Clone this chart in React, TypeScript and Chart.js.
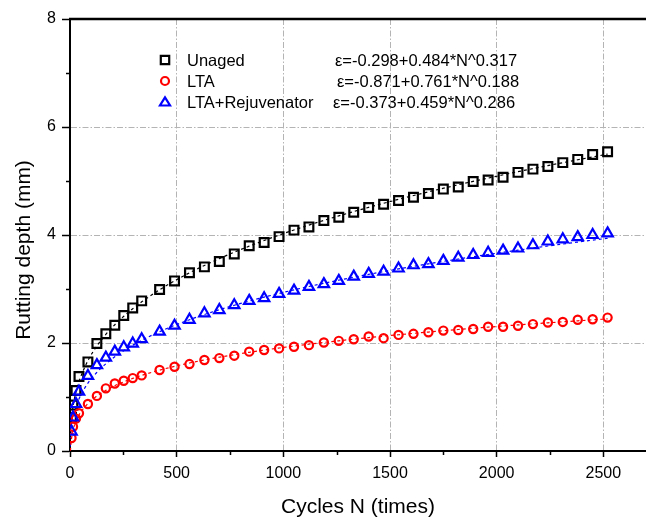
import React, { useEffect, useRef } from 'react';
import { Chart, registerables } from 'chart.js';

Chart.register(...registerables);

const FONT = '"Liberation Sans", Arial, Helvetica, sans-serif';

// Measured points (cycles N, rutting depth mm)
const cycles = [7, 14, 28, 42, 84, 126, 168, 210, 252, 294, 336, 420, 490, 560, 630, 700, 770, 840, 910, 980, 1050, 1120, 1190, 1260, 1330, 1400, 1470, 1540, 1610, 1680, 1750, 1820, 1890, 1960, 2030, 2100, 2170, 2240, 2310, 2380, 2450, 2520];
const unaged = [0.62, 0.85, 1.12, 1.38, 1.65, 1.99, 2.17, 2.33, 2.51, 2.65, 2.78, 2.99, 3.15, 3.30, 3.41, 3.51, 3.65, 3.80, 3.86, 3.97, 4.09, 4.15, 4.27, 4.33, 4.42, 4.51, 4.57, 4.64, 4.70, 4.77, 4.85, 4.89, 4.99, 5.02, 5.07, 5.16, 5.22, 5.27, 5.34, 5.40, 5.49, 5.54];
const lta = [0.24, 0.45, 0.60, 0.70, 0.87, 1.02, 1.16, 1.25, 1.30, 1.35, 1.40, 1.50, 1.56, 1.61, 1.685, 1.72, 1.765, 1.84, 1.87, 1.90, 1.93, 1.96, 2.01, 2.04, 2.07, 2.12, 2.09, 2.15, 2.17, 2.20, 2.23, 2.24, 2.26, 2.30, 2.30, 2.32, 2.35, 2.38, 2.39, 2.43, 2.44, 2.47];
const rejuv = [0.36, 0.62, 0.87, 1.10, 1.39, 1.59, 1.73, 1.84, 1.92, 1.99, 2.07, 2.21, 2.32, 2.43, 2.55, 2.61, 2.70, 2.78, 2.83, 2.91, 2.97, 3.04, 3.09, 3.15, 3.23, 3.28, 3.32, 3.38, 3.44, 3.46, 3.52, 3.58, 3.63, 3.67, 3.71, 3.75, 3.81, 3.88, 3.92, 3.96, 4.00, 4.03];

// Fitted curves
const fitCycles = [1, 3, 7, 14, 28, 42, 84, 126, 168, 210, 252, 294, 336, 420, 560, 700, 840, 980, 1120, 1260, 1400, 1540, 1680, 1820, 1960, 2100, 2240, 2380, 2520];
const unagedFit = [0.186, 0.388, 0.599, 0.819, 1.094, 1.285, 1.674, 1.944, 2.159, 2.338, 2.495, 2.635, 2.762, 2.986, 3.300, 3.563, 3.793, 3.998, 4.184, 4.354, 4.512, 4.660, 4.799, 4.930, 5.054, 5.173, 5.285, 5.393, 5.497];
const ltaFit = [-0.110, 0.065, 0.226, 0.379, 0.553, 0.666, 0.880, 1.018, 1.123, 1.209, 1.281, 1.344, 1.401, 1.498, 1.630, 1.737, 1.828, 1.907, 1.978, 2.041, 2.100, 2.153, 2.203, 2.250, 2.294, 2.335, 2.374, 2.411, 2.447];
const rejuvFit = [0.086, 0.255, 0.428, 0.603, 0.817, 0.964, 1.257, 1.457, 1.614, 1.745, 1.858, 1.959, 2.050, 2.210, 2.431, 2.616, 2.776, 2.918, 3.046, 3.163, 3.271, 3.372, 3.466, 3.555, 3.639, 3.719, 3.796, 3.869, 3.939];

const seriesNames = ['Unaged', 'LTA', 'LTA+Rejuvenator'];
const equations = ['\u03B5=-0.298+0.484*N^0.317', '\u03B5=-0.871+0.761*N^0.188', '\u03B5=-0.373+0.459*N^0.286'];
const seriesColors = ['#000000', '#ff0000', '#0000ff'];
const seriesMarkers = ['rect', 'circle', 'triangle'];

const xTitle = 'Cycles N (times)';
const yTitle = 'Rutting depth (mm)';
const xTickValues = [0, 250, 500, 750, 1000, 1250, 1500, 1750, 2000, 2250, 2500];
const xTickLabels = ['0', '', '500', '', '1000', '', '1500', '', '2000', '', '2500'];
const yTickValues = [0, 1, 2, 3, 4, 5, 6, 7, 8];
const yTickLabels = ['0', '', '2', '', '4', '', '6', '', '8'];

const toXY = (xs: number[], ys: number[]) => xs.map((x, i) => ({ x, y: ys[i] }));

function drawMarker(ctx: CanvasRenderingContext2D, kind: string, x: number, y: number, color: string) {
  ctx.save();
  ctx.strokeStyle = color;
  ctx.lineWidth = 2.2;
  ctx.beginPath();
  if (kind === 'rect') {
    ctx.rect(x - 4.2, y - 4.2, 8.4, 8.4);
  } else if (kind === 'circle') {
    ctx.arc(x, y, 4, 0, Math.PI * 2);
  } else {
    const r = 5.8;
    ctx.moveTo(x, y - r * 0.8);
    ctx.lineTo(x + r * 0.866, y + r * 0.6);
    ctx.lineTo(x - r * 0.866, y + r * 0.6);
    ctx.closePath();
  }
  ctx.stroke();
  ctx.restore();
}

const isMajorX = (v: number) => xTickLabels[xTickValues.indexOf(v)] !== '';
const isMajorY = (v: number) => yTickLabels[yTickValues.indexOf(v)] !== '';

const overlayPlugin = {
  id: 'overlay',
  afterDraw(chart: any) {
    const { ctx, chartArea, scales } = chart;
    const xs = scales.x;
    const ys = scales.y;
    ctx.save();
    // top frame line
    ctx.strokeStyle = '#000';
    ctx.lineWidth = 2.5;
    ctx.beginPath();
    ctx.moveTo(chartArea.left - 1, chartArea.top);
    ctx.lineTo(chart.width, chartArea.top);
    ctx.stroke();
    // minor ticks
    ctx.lineWidth = 1.5;
    ctx.beginPath();
    xTickValues.forEach((v) => {
      if (!isMajorX(v)) {
        const px = Math.round(xs.getPixelForValue(v)) + 0.5;
        ctx.moveTo(px, chartArea.bottom);
        ctx.lineTo(px, chartArea.bottom + 4);
      }
    });
    yTickValues.forEach((v) => {
      if (!isMajorY(v)) {
        const py = Math.round(ys.getPixelForValue(v)) + 0.5;
        ctx.moveTo(chartArea.left, py);
        ctx.lineTo(chartArea.left - 4, py);
      }
    });
    ctx.stroke();
    // y title
    ctx.save();
    ctx.translate(24, 250);
    ctx.rotate(-Math.PI / 2);
    ctx.font = `21px ${FONT}`;
    ctx.fillStyle = '#000';
    ctx.textAlign = 'center';
    ctx.textBaseline = 'middle';
    ctx.fillText(yTitle, 0, 0);
    ctx.restore();
    // legend
    const rows = [60, 81, 102];
    const eqX = [335, 337, 333];
    ctx.font = `16.5px ${FONT}`;
    ctx.fillStyle = '#000';
    ctx.textAlign = 'left';
    ctx.textBaseline = 'middle';
    seriesNames.forEach((name, i) => {
      drawMarker(ctx, seriesMarkers[i], 165, rows[i], seriesColors[i]);
      ctx.fillText(name, 187, rows[i] + 1);
      ctx.fillText(equations[i], eqX[i], rows[i] + 1);
    });
    ctx.restore();
  },
};

export default function App() {
  const ref = useRef<HTMLCanvasElement | null>(null);
  useEffect(() => {
    if (!ref.current) return;
    const pointSets = [unaged, lta, rejuv];
    const fitSets = [unagedFit, ltaFit, rejuvFit];
    const radii = [6.2, 4.1, 6.0];
    const datasets: any[] = [];
    pointSets.forEach((vals, i) => {
      datasets.push({
        label: seriesNames[i],
        data: toXY(cycles, vals),
        showLine: false,
        pointStyle: seriesMarkers[i],
        pointRadius: radii[i],
        pointBorderWidth: 2.2,
        pointBorderColor: seriesColors[i],
        pointBackgroundColor: 'rgba(0,0,0,0)',
        order: [2, 1, 0][i],
      });
    });
    fitSets.forEach((vals, i) => {
      datasets.push({
        label: seriesNames[i] + ' fit',
        data: toXY(fitCycles, vals),
        showLine: true,
        borderColor: seriesColors[i],
        borderWidth: 1.2,
        borderDash: [3, 3],
        pointRadius: 0,
        cubicInterpolationMode: 'monotone',
        fill: false,
        order: 5 + i,
      });
    });
    const chart = new Chart(ref.current, {
      type: 'scatter',
      data: { datasets },
      options: {
        animation: false,
        responsive: false,
        layout: { autoPadding: false, padding: { top: 19, left: 0, right: 0, bottom: 0 } },
        plugins: { legend: { display: false }, tooltip: { enabled: false }, title: { display: false } },
        scales: {
          x: {
            type: 'linear',
            position: 'bottom',
            min: 0,
            max: 2700,
            afterFit: (s: any) => { s.height = 70; s.paddingLeft = 0; s.paddingRight = 0; },
            afterBuildTicks: (s: any) => { s.ticks = xTickValues.map((v) => ({ value: v })); },
            ticks: {
              autoSkip: false,
              maxRotation: 0,
              padding: 7,
              color: '#000',
              font: { family: FONT, size: 16 },
              callback: (v: any) => xTickLabels[xTickValues.indexOf(Number(v))] ?? '',
            },
            grid: {
              drawOnChartArea: true,
              drawTicks: true,
              tickLength: 6,
              lineWidth: 1,
              color: (c: any) => (c.tick && isMajorX(c.tick.value) && c.tick.value !== 0 ? '#b4b4b4' : 'rgba(0,0,0,0)'),
              tickColor: (c: any) => (c.tick && isMajorX(c.tick.value) ? '#000' : 'rgba(0,0,0,0)'),
              tickWidth: 1.5,
            },
            border: { display: true, color: '#000', width: 2, dash: [6, 2, 1.5, 2] },
            title: {
              display: true,
              text: xTitle,
              color: '#000',
              font: { family: FONT, size: 21 },
              padding: { top: 0, bottom: 1 },
            },
          },
          y: {
            type: 'linear',
            position: 'left',
            min: 0,
            max: 8,
            afterFit: (s: any) => { s.width = 70; },
            afterBuildTicks: (s: any) => { s.ticks = yTickValues.map((v) => ({ value: v })); },
            ticks: {
              autoSkip: false,
              padding: 6,
              color: '#000',
              font: { family: FONT, size: 16 },
              callback: (v: any) => yTickLabels[yTickValues.indexOf(Number(v))] ?? '',
            },
            grid: {
              drawOnChartArea: true,
              drawTicks: true,
              tickLength: 8,
              lineWidth: 1,
              color: (c: any) => (c.tick && isMajorY(c.tick.value) && c.tick.value !== 0 && c.tick.value !== 8 ? '#b4b4b4' : 'rgba(0,0,0,0)'),
              tickColor: (c: any) => (c.tick && isMajorY(c.tick.value) ? '#000' : 'rgba(0,0,0,0)'),
              tickWidth: 1.5,
            },
            border: { display: true, color: '#000', width: 2, dash: [6, 2, 1.5, 2] },
            title: { display: false },
          },
        },
      },
      plugins: [overlayPlugin],
    });
    return () => chart.destroy();
  }, []);
  return (
    <div style={{ position: 'absolute', left: 0, top: 0, width: 646, height: 521, background: '#fff' }}>
      <canvas ref={ref} width={646} height={521} style={{ display: 'block' }} />
    </div>
  );
}
